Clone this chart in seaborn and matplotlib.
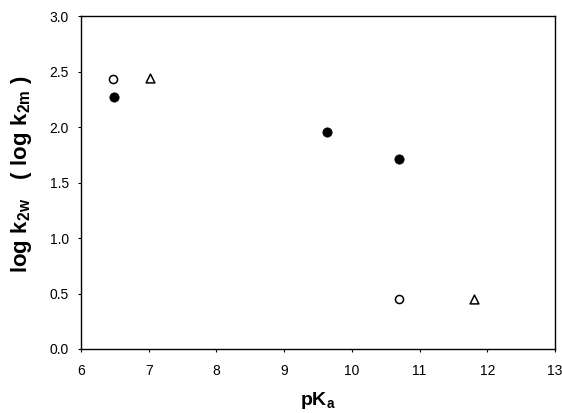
import matplotlib
matplotlib.use("Agg")
import matplotlib.pyplot as plt
import seaborn as sns

# pKa vs log k2w / log k2m
pka_filled = [6.49, 9.64, 10.70]
logk_filled = [2.27, 1.96, 1.71]

pka_open = [6.48, 10.70]
logk_open = [2.43, 0.45]

pka_tri = [7.02, 11.81]
logk_tri = [2.44, 0.45]

xticks = [6, 7, 8, 9, 10, 11, 12, 13]
yticks = [0.0, 0.5, 1.0, 1.5, 2.0, 2.5, 3.0]

sns.set_style("ticks")
plt.rcParams['font.family'] = ['Liberation Sans', 'DejaVu Sans']
plt.rcParams['mathtext.fontset'] = 'custom'
plt.rcParams['mathtext.rm'] = 'Liberation Sans:bold'
plt.rcParams['mathtext.it'] = 'Liberation Sans:bold'
plt.rcParams['mathtext.default'] = 'rm'
plt.rcParams['text.color'] = 'black'
plt.rcParams['axes.labelcolor'] = 'black'
plt.rcParams['xtick.color'] = 'black'
plt.rcParams['ytick.color'] = 'black'

fig = plt.figure(figsize=(5.62, 4.13), dpi=100)
ax = fig.add_axes([0.144, 0.155, 0.8435, 0.806])

sns.scatterplot(x=pka_filled, y=logk_filled, ax=ax, marker='o', s=45,
                color='black', edgecolor='black', linewidth=0.5)
sns.scatterplot(x=pka_open, y=logk_open, ax=ax, marker='o', s=34,
                facecolor='white', edgecolor='black', linewidth=1.1)
sns.scatterplot(x=pka_tri, y=logk_tri, ax=ax, marker='^', s=40,
                facecolor='white', edgecolor='black', linewidth=1.1)

ax.set_xlim(6, 13)
ax.set_ylim(0, 3)
ax.set_xticks(xticks)
ax.set_yticks(yticks)
ax.set_xticklabels([str(t) for t in xticks], fontsize=10)
ax.set_yticklabels(['%.1f' % t for t in yticks], fontsize=10)
ax.tick_params(direction='out', length=2.5, width=0.8)
ax.tick_params(axis='x', pad=8)
ax.tick_params(axis='y', pad=6)

for sp in ax.spines.values():
    sp.set_visible(True)
    sp.set_color('black')
    sp.set_linewidth(1.0)

ax.set_xlabel(r'$\mathrm{pK_a}$', fontsize=14, labelpad=9)
ax.set_ylabel(r'$\mathrm{log\ k_{2w}\ \ \ (\ log\ k_{2m}\ )}$', fontsize=16)
ax.yaxis.set_label_coords(-0.1, 0.527)

fig.savefig('out.png', dpi=100)
